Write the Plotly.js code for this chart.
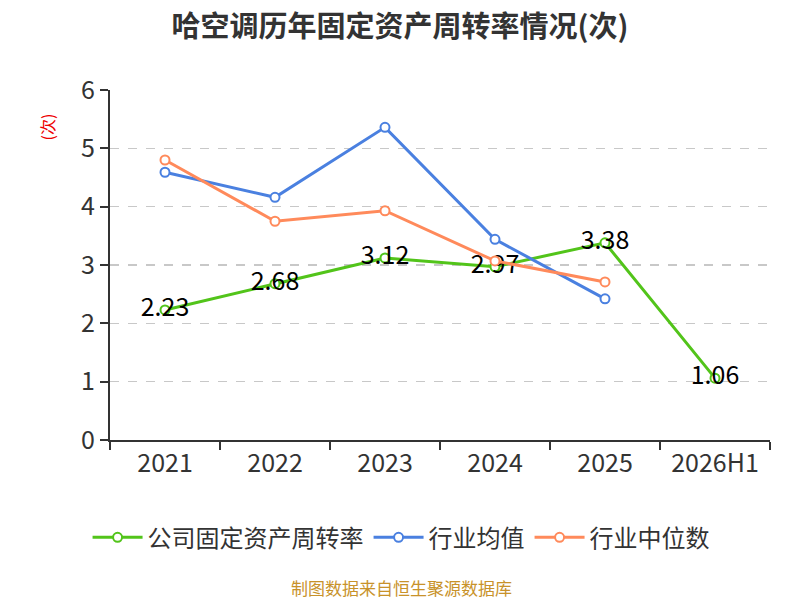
<!DOCTYPE html>
<html>
<head>
<meta charset="utf-8">
<script src="https://cdn.plot.ly/plotly-3.0.1.min.js"></script>
<style>
  html, body { margin: 0; padding: 0; background: #fff; }
  #chart { width: 800px; height: 600px; }
</style>
</head>
<body>
<div id="chart"></div>
<script>
// 年份
var years = ['2021', '2022', '2023', '2024', '2025', '2026H1'];
// 公司固定资产周转率
var company = [2.23, 2.68, 3.12, 2.97, 3.38, 1.06];
// 行业均值 / 行业中位数 (只到2025)
var industryMean = [4.59, 4.16, 5.36, 3.44, 2.42];
var industryMedian = [4.80, 3.75, 3.93, 3.07, 2.71];

var font = '"Noto Sans CJK SC", "Noto Sans", sans-serif';

function series(name, y, color, withText) {
  var t = {
    x: years.slice(0, y.length),
    y: y,
    name: name,
    type: 'scatter',
    mode: withText ? 'lines+markers+text' : 'lines+markers',
    line: { color: color, width: 3 },
    marker: { symbol: 'circle', size: 9, color: '#fff', line: { color: color, width: 2 } },
    cliponaxis: false
  };
  if (withText) {
    t.text = y.map(function (v) { return v.toFixed(2); });
    t.textposition = 'middle center';
    t.textfont = { size: 25, color: '#000', family: font };
  }
  return t;
}

var data = [
  series('公司固定资产周转率', company, '#52c41a', true),
  series('行业均值', industryMean, '#4a80e0', false),
  series('行业中位数', industryMedian, '#ff8a5b', false)
];

var layout = {
  width: 800,
  height: 600,
  margin: { l: 110, r: 30, t: 90, b: 160 },
  paper_bgcolor: '#fff',
  plot_bgcolor: '#fff',
  font: { family: font, color: '#333' },
  title: {
    text: '<b>哈空调历年固定资产周转率情况(次)</b>',
    x: 0.5, xanchor: 'center', y: 0.955, yanchor: 'middle',
    font: { size: 29, color: '#333', family: font }
  },
  xaxis: {
    type: 'category',
    range: [-0.5, 5.5],
    showline: true, linecolor: '#333', linewidth: 2,
    ticks: 'outside', tickson: 'boundaries', ticklen: 8, tickcolor: '#333', tickwidth: 2,
    showgrid: false,
    tickfont: { size: 25, color: '#333' },
    fixedrange: true
  },
  yaxis: {
    range: [0, 6],
    dtick: 1,
    showline: true, linecolor: '#333', linewidth: 2,
    ticks: 'outside', ticklen: 8, tickcolor: '#333', tickwidth: 2,
    showgrid: true, gridcolor: '#c8c8c8', griddash: 'dash', gridwidth: 1.5,
    zeroline: false,
    tickfont: { size: 25, color: '#333' },
    fixedrange: true
  },
  legend: {
    orientation: 'h',
    x: 0.441, xanchor: 'center',
    y: -0.215, yanchor: 'top',
    font: { size: 24, color: '#333' },
    itemwidth: 50
  },
  annotations: [
    {
      text: '(次)', xref: 'paper', yref: 'paper',
      x: -0.095, y: 0.894, xanchor: 'center', yanchor: 'middle',
      textangle: -90, showarrow: false,
      font: { size: 16, color: '#e00' }
    },
    {
      text: '制图数据来自恒生聚源数据库', xref: 'paper', yref: 'paper',
      x: 0.441, y: -0.42, xanchor: 'center', yanchor: 'middle', showarrow: false,
      font: { size: 17, color: '#c8922a' }
    }
  ]
};

Plotly.newPlot('chart', data, layout, { displayModeBar: false, staticPlot: true });
</script>
</body>
</html>
